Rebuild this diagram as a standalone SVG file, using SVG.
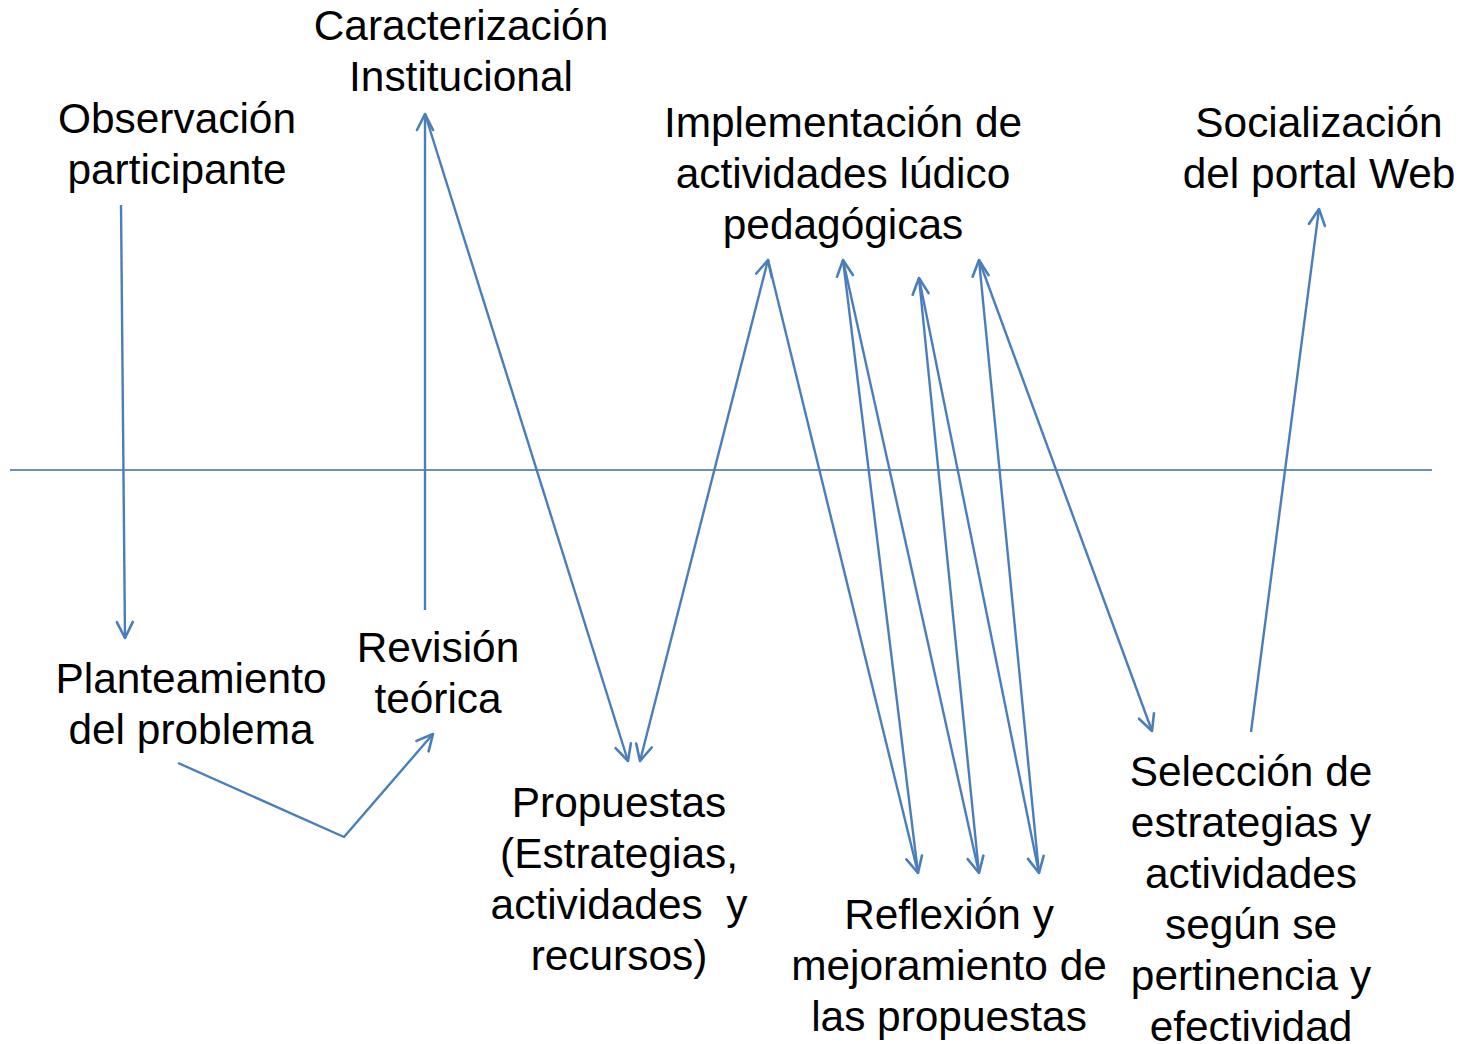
<svg xmlns="http://www.w3.org/2000/svg" width="1474" height="1044" viewBox="0 0 1474 1044">
<style>
text{font-family:"Liberation Sans",Arial,sans-serif;font-size:42.4px;fill:#000;text-anchor:middle}
.c{fill:none;stroke:#4A7EBB;stroke-width:2.4;stroke-linejoin:round}
.axis{fill:none;stroke:#3B6AA8;stroke-width:1.6}
</style>
<defs>
<marker id="ah" viewBox="0 0 20 20" refX="18" refY="10" markerWidth="20" markerHeight="20" markerUnits="userSpaceOnUse" orient="auto-start-reverse">
<path d="M2,2 L18,10 L2,18" fill="none" stroke="#4A7EBB" stroke-width="2.6" stroke-linecap="round" stroke-linejoin="round"/>
</marker>
</defs>
<g id="connectors">
<line class="axis" x1="10" y1="470" x2="1432" y2="470"/>
<line class="c" x1="121" y1="205" x2="125" y2="638" marker-end="url(#ah)"/>
<polyline class="c" points="178,763 344,837 433,734" marker-end="url(#ah)"/>
<line class="c" x1="425" y1="610" x2="425" y2="114" marker-end="url(#ah)"/>
<line class="c" x1="425" y1="114" x2="628" y2="761" marker-end="url(#ah)"/>
<line class="c" x1="640" y1="761" x2="768" y2="260" marker-start="url(#ah)" marker-end="url(#ah)"/>
<line class="c" x1="768" y1="260" x2="918" y2="873" marker-end="url(#ah)"/>
<line class="c" x1="918" y1="873" x2="843" y2="260" marker-end="url(#ah)"/>
<line class="c" x1="843" y1="260" x2="979" y2="873" marker-end="url(#ah)"/>
<line class="c" x1="979" y1="873" x2="919" y2="278" marker-end="url(#ah)"/>
<line class="c" x1="919" y1="278" x2="1039" y2="873" marker-end="url(#ah)"/>
<line class="c" x1="1039" y1="873" x2="979" y2="260" marker-end="url(#ah)"/>
<line class="c" x1="979" y1="260" x2="1152" y2="731" marker-end="url(#ah)"/>
<line class="c" x1="1251" y1="732" x2="1319" y2="209" marker-end="url(#ah)"/>
</g>
<g id="caracterizacion"><text x="461" y="40">Caracterización</text><text x="461" y="91">Institucional</text></g>
<g id="observacion"><text x="177" y="133">Observación</text><text x="177" y="184">participante</text></g>
<g id="implementacion"><text x="843" y="137">Implementación de</text><text x="843" y="188">actividades lúdico</text><text x="843" y="239">pedagógicas</text></g>
<g id="socializacion"><text x="1319" y="137">Socialización</text><text x="1319" y="188">del portal Web</text></g>
<g id="planteamiento"><text x="191" y="693">Planteamiento</text><text x="191" y="744">del problema</text></g>
<g id="revision"><text x="438" y="662">Revisión</text><text x="438" y="713">teórica</text></g>
<g id="propuestas"><text x="619" y="817">Propuestas</text><text x="619" y="868">(Estrategias,</text><text x="619" y="919" xml:space="preserve">actividades  y</text><text x="619" y="970">recursos)</text></g>
<g id="reflexion"><text x="949" y="929">Reflexión y</text><text x="949" y="980">mejoramiento de</text><text x="949" y="1031">las propuestas</text></g>
<g id="seleccion"><text x="1251" y="786">Selección de</text><text x="1251" y="837">estrategias y</text><text x="1251" y="888">actividades</text><text x="1251" y="939">según se</text><text x="1251" y="990">pertinencia y</text><text x="1251" y="1041">efectividad</text></g>
</svg>
